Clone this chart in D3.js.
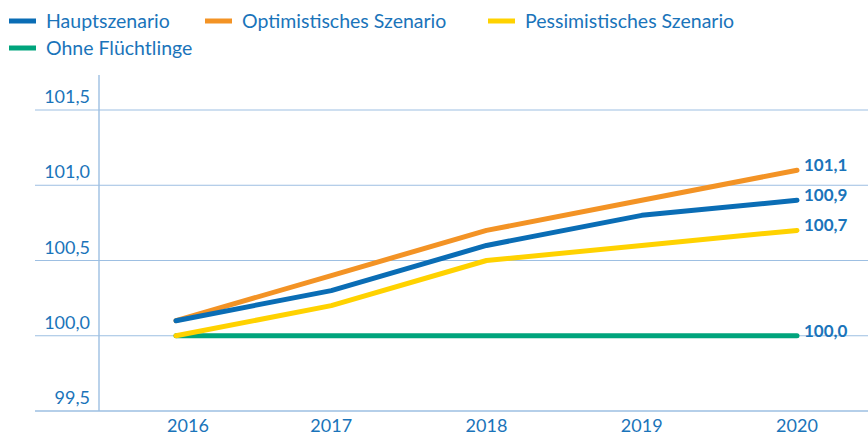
<!DOCTYPE html>
<html>
<head>
<meta charset="utf-8">
<script src="https://cdn.jsdelivr.net/npm/d3@7"></script>
<style>
  body { margin: 0; background: #fff; }
  svg { font-family: Lato, "Noto Sans", sans-serif; }
</style>
</head>
<body>
<svg id="chart"></svg>
<script>
var width = 868, height = 436;

var years = [2016, 2017, 2018, 2019, 2020];
var yTicks = [99.5, 100.0, 100.5, 101.0, 101.5];
var haupt = [100.1, 100.3, 100.6, 100.8, 100.9];
var optimistisch = [100.1, 100.4, 100.7, 100.9, 101.1];
var pessimistisch = [100.0, 100.2, 100.5, 100.6, 100.7];
var ohne = [100.0, 100.0, 100.0, 100.0, 100.0];

var series = [
  { name: 'Ohne Flüchtlinge', values: ohne, color: '#00a47c' },
  { name: 'Pessimistisches Szenario', values: pessimistisch, color: '#ffd200' },
  { name: 'Optimistisches Szenario', values: optimistisch, color: '#f39325' },
  { name: 'Hauptszenario', values: haupt, color: '#0a6db5' }
];
var legendOrder = [3, 2, 1, 0];

var textColor = '#1a74ba';
var gridColor = '#9dbfe2';

var svg = d3.select('#chart')
  .attr('width', width)
  .attr('height', height);

var x = d3.scalePoint().domain(years).range([176, 797]);
var y = d3.scaleLinear().domain([99.5, 101.5]).range([411, 110]);

// gridlines
svg.selectAll('line.grid')
  .data(yTicks)
  .enter()
  .append('line')
  .attr('class', 'grid')
  .attr('x1', 35).attr('x2', width)
  .attr('y1', function(d) { return y(d) }).attr('y2', function(d) { return y(d) })
  .attr('stroke', gridColor)
  .attr('stroke-width', function(d) { return d === 99.5 ? 1.6 : 1 });

// y axis line
svg.append('line')
  .attr('x1', 99).attr('x2', 99)
  .attr('y1', 75).attr('y2', 411)
  .attr('stroke', gridColor)
  .attr('stroke-width', 1.4);

// y labels
svg.selectAll('text.ylab')
  .data(yTicks)
  .enter()
  .append('text')
  .attr('class', 'ylab')
  .attr('x', 90)
  .attr('y', function(d) { return y(d) - 7 })
  .attr('text-anchor', 'end')
  .attr('fill', textColor)
  .attr('font-size', 18)
  .text(function(d) { return d3.format('.1f')(d).replace('.', ',') });

// x labels (first one sits a bit right in the original)
svg.selectAll('text.xlab')
  .data(years)
  .enter()
  .append('text')
  .attr('class', 'xlab')
  .attr('x', function(d, i) { return x(d) + (i === 0 ? 12 : 0) })
  .attr('y', 432)
  .attr('text-anchor', 'middle')
  .attr('fill', textColor)
  .attr('font-size', 18)
  .text(function(d) { return d });

var line = d3.line()
  .x(function(d, i) { return x(years[i]) })
  .y(function(d) { return y(d) });

svg.selectAll('path.series')
  .data(series)
  .enter()
  .append('path')
  .attr('class', 'series')
  .attr('d', function(d) { return line(d.values) })
  .attr('fill', 'none')
  .attr('stroke', function(d) { return d.color })
  .attr('stroke-width', 5)
  .attr('stroke-linecap', 'round')
  .attr('stroke-linejoin', 'round');

// end labels
svg.selectAll('text.endlab')
  .data(series)
  .enter()
  .append('text')
  .attr('class', 'endlab')
  .attr('x', 804)
  .attr('y', function(d) { return y(d.values[d.values.length - 1]) + 1 })
  .attr('fill', textColor)
  .attr('font-size', 17)
  .attr('font-weight', 'bold')
  .text(function(d) { return d3.format('.1f')(d.values[d.values.length - 1]).replace('.', ',') });

// legend
var legendPos = [[9, 21], [205, 21], [488, 21], [9, 48]];
var legend = svg.selectAll('g.legend')
  .data(legendOrder)
  .enter()
  .append('g')
  .attr('class', 'legend')
  .attr('transform', function(d, i) { return 'translate(' + legendPos[i][0] + ',' + legendPos[i][1] + ')' });

legend.append('line')
  .attr('x1', 0).attr('x2', 27)
  .attr('y1', 0).attr('y2', 0)
  .attr('stroke', function(d) { return series[d].color })
  .attr('stroke-width', 5);

legend.append('text')
  .attr('x', 37)
  .attr('y', 7)
  .attr('fill', textColor)
  .attr('font-size', 19.5)
  .text(function(d) { return series[d].name });
</script>
</body>
</html>
